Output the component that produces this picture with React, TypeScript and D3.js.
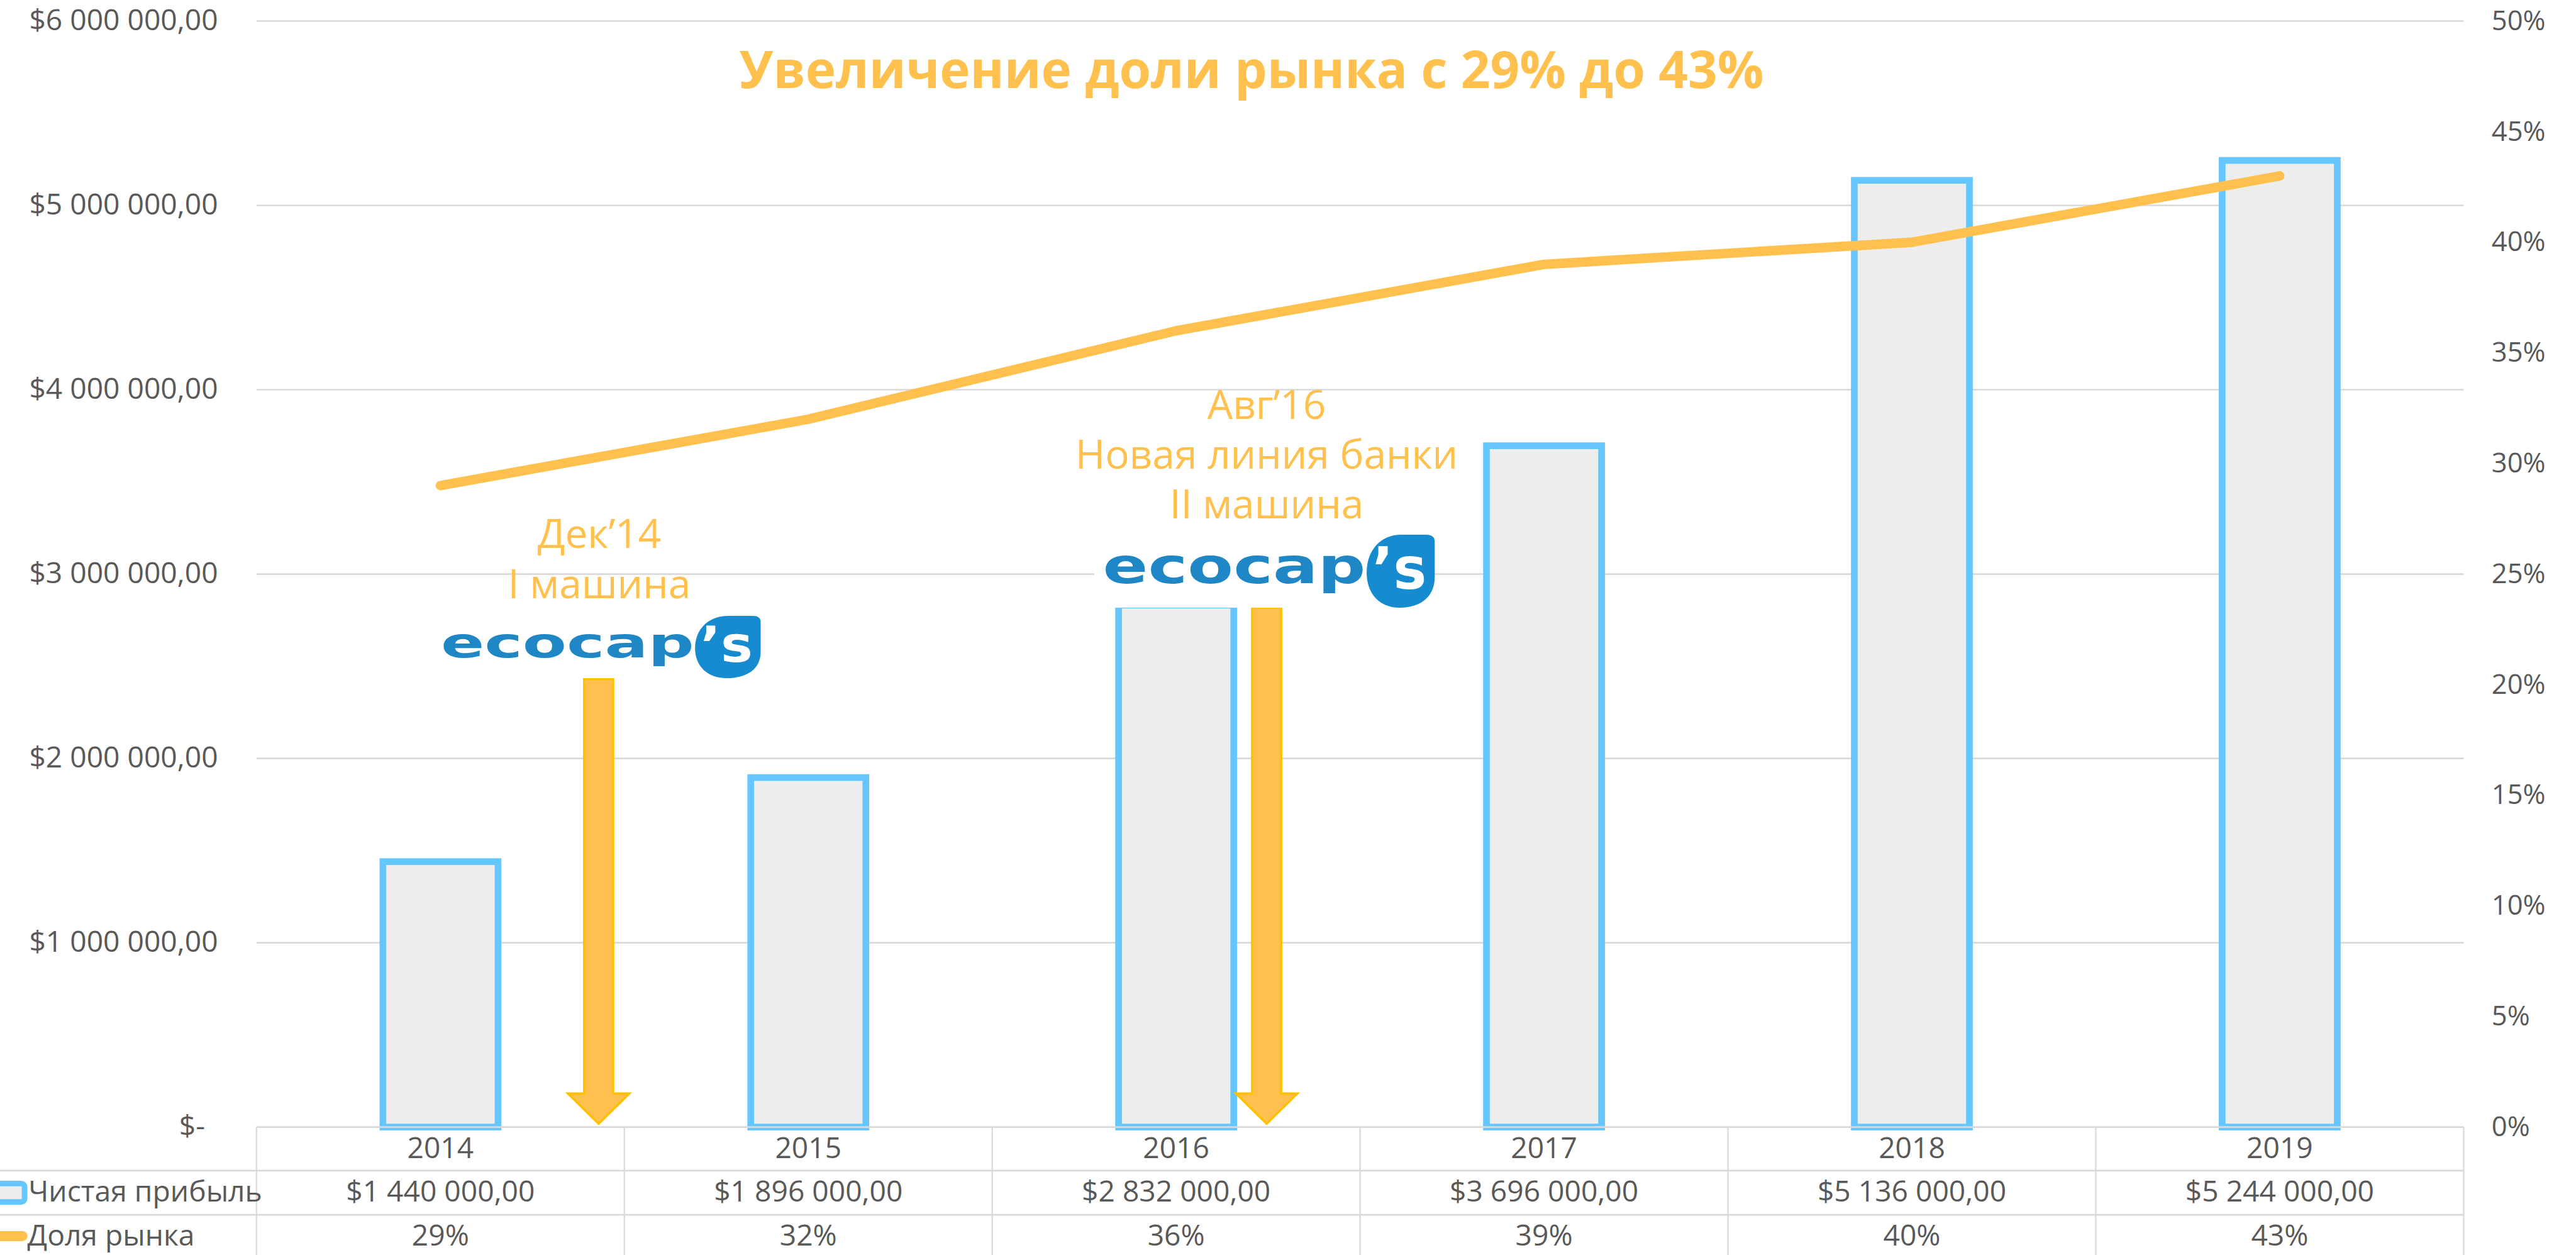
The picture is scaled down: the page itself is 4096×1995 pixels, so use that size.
import React from "react";
import * as d3 from "d3";

// ---------- data ----------
const years = ["2014", "2015", "2016", "2017", "2018", "2019"];
const netProfit = [1440000, 1896000, 2832000, 3696000, 5136000, 5244000];
const marketShare = [0.29, 0.32, 0.36, 0.39, 0.4, 0.43];
const leftTicks = [0, 1000000, 2000000, 3000000, 4000000, 5000000, 6000000];
const rightTicks = [0, 0.05, 0.1, 0.15, 0.2, 0.25, 0.3, 0.35, 0.4, 0.45, 0.5];
const seriesNames = ["Чистая прибыль", "Доля рынка"];
const chartTitle = "Увеличение доли рынка с 29% до 43%";
const annotationLines = [
  ["Дек’14", "I машина"],
  ["Авг’16", "Новая линия банки", "II машина"],
];
const logoWord = "ecocap";
const logoSuffix = "’s";

// ---------- layout (reference pixel space, scaled to window) ----------
const REF_W = 4609;
const REF_H = 2245;
const OUT_W = 4096;
const OUT_H = 1995;
const S = OUT_W / REF_W;

const plotLeft = 459;
const plotRight = 4408;
const plotTop = 37.7;
const plotBottom = 2016;
const rowLines = [2094, 2173];
const tableBottom = 2260;

const FONT = "'Open Sans', 'Noto Sans', sans-serif";
const GRAY_TEXT = "#595959";
const GRID = "#D9D9D9";
const BAR_STROKE = "#66C6FF";
const BAR_FILL = "#EDEDED";
const ORANGE = "#FFC04D";
const GOLD = "#FFC000";

const fmtLocale = d3.formatLocale({
  decimal: ",",
  thousands: " ",
  grouping: [3],
  currency: ["$", ""],
});
const moneyFmt = fmtLocale.format("$,.2f");
const fmtMoney = (v: number) => (v === 0 ? "$-" : moneyFmt(v));
const fmtPct = d3.format(".0%");

function Logo({ x, y, w, h }: { x: number; y: number; w: number; h: number }) {
  const dx = x + 0.8 * w;
  const dw = 0.2 * w;
  const dy = y + 0.08 * h;
  const dh = 0.92 * h;
  const drop = `M${dx + dw * 0.5},${dy}
    L${dx + dw * 0.88},${dy}
    Q${dx + dw},${dy} ${dx + dw},${dy + dh * 0.1}
    L${dx + dw},${dy + dh * 0.58}
    C${dx + dw},${dy + dh * 0.86} ${dx + dw * 0.78},${dy + dh} ${dx + dw * 0.48},${dy + dh}
    C${dx + dw * 0.18},${dy + dh} ${dx},${dy + dh * 0.8} ${dx},${dy + dh * 0.52}
    C${dx},${dy + dh * 0.2} ${dx + dw * 0.22},${dy} ${dx + dw * 0.5},${dy} Z`;
  const xh = 0.34 * h;
  const fs = xh / 0.55;
  return (
    <g>
      <rect x={x} y={y} width={w} height={h} fill="#ffffff" />
      <text
        x={x + 0.025 * w}
        y={y + 0.69 * h}
        fontFamily="'DejaVu Sans', sans-serif"
        fontWeight={700}
        fontSize={fs}
        fill="#1F87C5"
        textLength={0.772 * w}
        lengthAdjust="spacingAndGlyphs"
      >
        {logoWord}
      </text>
      <path d={drop} fill="#168BD0" />
      <text
        x={dx + dw * 0.08}
        y={y + 0.76 * h}
        fontFamily="'DejaVu Sans', sans-serif"
        fontWeight={700}
        fontSize={0.4 * h / 0.55}
        fill="#ffffff"
        textLength={dw * 0.8}
        lengthAdjust="spacingAndGlyphs"
      >
        {logoSuffix}
      </text>
    </g>
  );
}

export default function App() {
  const x = d3.scaleBand<string>().domain(years).range([plotLeft, plotRight]).padding(0);
  const step = x.step();
  const cx = (yr: string) => (x(yr) as number) + x.bandwidth() / 2;
  const yL = d3.scaleLinear().domain([0, 6000000]).range([plotBottom, plotTop]);
  const yR = d3.scaleLinear().domain([0, 0.5]).range([plotBottom, plotTop]);
  const catPos = d3.scaleLinear().domain([0, years.length]).range([plotLeft, plotRight]);
  const barW = step * 0.313;

  const line = d3
    .line<number>()
    .x((_, i) => cx(years[i]))
    .y((d) => yR(d));

  // annotation arrows (category position, top value in $)
  const arrows = [
    { pos: 0.93, top: 2430000 },
    { pos: 2.746, top: 2818000 },
  ];
  const arrowPath = (c: number, top: number) => {
    const sw = 26;
    const hw = 55;
    const headY = yL(182000);
    const tipY = yL(18000);
    return `M${c - sw},${top} L${c + sw},${top} L${c + sw},${headY} L${c + hw},${headY} L${c},${tipY} L${c - hw},${headY} L${c - sw},${headY} Z`;
  };

  const annoX = [catPos(0.932), catPos(2.746)];
  const annoBaselines = [
    [980, 1070],
    [749, 838, 927],
  ];

  return (
    <svg
      width={OUT_W}
      height={OUT_H}
      style={{ position: "absolute", left: 0, top: 0, background: "#fff" }}
    >
      <g transform={`scale(${S})`}>
        <rect x={0} y={0} width={REF_W} height={REF_H} fill="#ffffff" />
        {/* gridlines */}
        {leftTicks.map((t) =>
          t === 0 ? null : (
            <line key={"g" + t} x1={plotLeft} x2={plotRight} y1={yL(t)} y2={yL(t)} stroke={GRID} strokeWidth={3} />
          )
        )}
        {/* left axis labels */}
        {leftTicks.map((t) => (
          <text
            key={"l" + t}
            x={t === 0 ? 367 : 390}
            y={yL(t) + 16}
            textAnchor="end"
            fontFamily={FONT}
            fontSize={52}
            fill={GRAY_TEXT}
          >
            {fmtMoney(t)}
          </text>
        ))}
        {/* right axis labels */}
        {rightTicks.map((t) => (
          <text key={"r" + t} x={4458} y={yR(t) + 16} fontFamily={FONT} fontSize={49} fill={GRAY_TEXT}>
            {fmtPct(t)}
          </text>
        ))}
        {/* bars */}
        {netProfit.map((v, i) => (
          <rect
            key={"b" + i}
            x={cx(years[i]) - barW / 2}
            y={yL(v)}
            width={barW}
            height={plotBottom - yL(v)}
            fill={BAR_FILL}
            stroke={BAR_STROKE}
            strokeWidth={12}
          />
        ))}
        {/* table lines */}
        <line x1={plotLeft} x2={plotRight} y1={plotBottom} y2={plotBottom} stroke={GRID} strokeWidth={3} />
        {rowLines.map((ry) => (
          <line key={"rl" + ry} x1={0} x2={plotRight} y1={ry} y2={ry} stroke={GRID} strokeWidth={3} />
        ))}
        {d3.range(years.length + 1).map((k) => (
          <line
            key={"vl" + k}
            x1={catPos(k)}
            x2={catPos(k)}
            y1={plotBottom}
            y2={tableBottom}
            stroke={GRID}
            strokeWidth={2.5}
          />
        ))}
        {/* table text */}
        {years.map((yr, i) => (
          <g key={"t" + yr}>
            <text x={cx(yr)} y={2072} textAnchor="middle" fontFamily={FONT} fontSize={52} fill={GRAY_TEXT}>
              {yr}
            </text>
            <text x={cx(yr)} y={2149} textAnchor="middle" fontFamily={FONT} fontSize={52} fill={GRAY_TEXT}>
              {fmtMoney(netProfit[i])}
            </text>
            <text x={cx(yr)} y={2228} textAnchor="middle" fontFamily={FONT} fontSize={52} fill={GRAY_TEXT}>
              {fmtPct(marketShare[i])}
            </text>
          </g>
        ))}
        {/* legend keys */}
        <rect x={-20} y={2117} width={64} height={33} rx={6} fill={BAR_FILL} stroke={BAR_STROKE} strokeWidth={10} />
        <line x1={-20} x2={40} y1={2211} y2={2211} stroke={ORANGE} strokeWidth={18} strokeLinecap="round" />
        <text x={51} y={2149} fontFamily={FONT} fontSize={52} fill={GRAY_TEXT}>
          {seriesNames[0]}
        </text>
        <text x={49} y={2228} fontFamily={FONT} fontSize={52} fill={GRAY_TEXT}>
          {seriesNames[1]}
        </text>
        {/* share line */}
        <path
          d={line(marketShare) || ""}
          fill="none"
          stroke={ORANGE}
          strokeWidth={17}
          strokeLinecap="round"
          strokeLinejoin="round"
        />
        {/* arrows */}
        {arrows.map((a, i) => (
          <path
            key={"a" + i}
            d={arrowPath(catPos(a.pos), yL(a.top))}
            fill={ORANGE}
            stroke={GOLD}
            strokeWidth={4}
          />
        ))}
        {/* annotations */}
        {annotationLines.map((lines, i) =>
          lines.map((t, j) => (
            <text
              key={"an" + i + j}
              x={annoX[i]}
              y={annoBaselines[i][j]}
              textAnchor="middle"
              fontFamily={FONT}
              fontSize={72}
              fill={ORANGE}
            >
              {t}
            </text>
          ))
        )}
        {/* logos */}
        <Logo x={774} y={1092} w={587} h={121} />
        <Logo x={1958} y={945} w={609} h={142} />
        {/* title */}
        <text
          x={2239}
          y={158}
          textAnchor="middle"
          fontFamily={FONT}
          fontWeight={700}
          fontSize={92}
          fill={ORANGE}
        >
          {chartTitle}
        </text>
      </g>
    </svg>
  );
}
